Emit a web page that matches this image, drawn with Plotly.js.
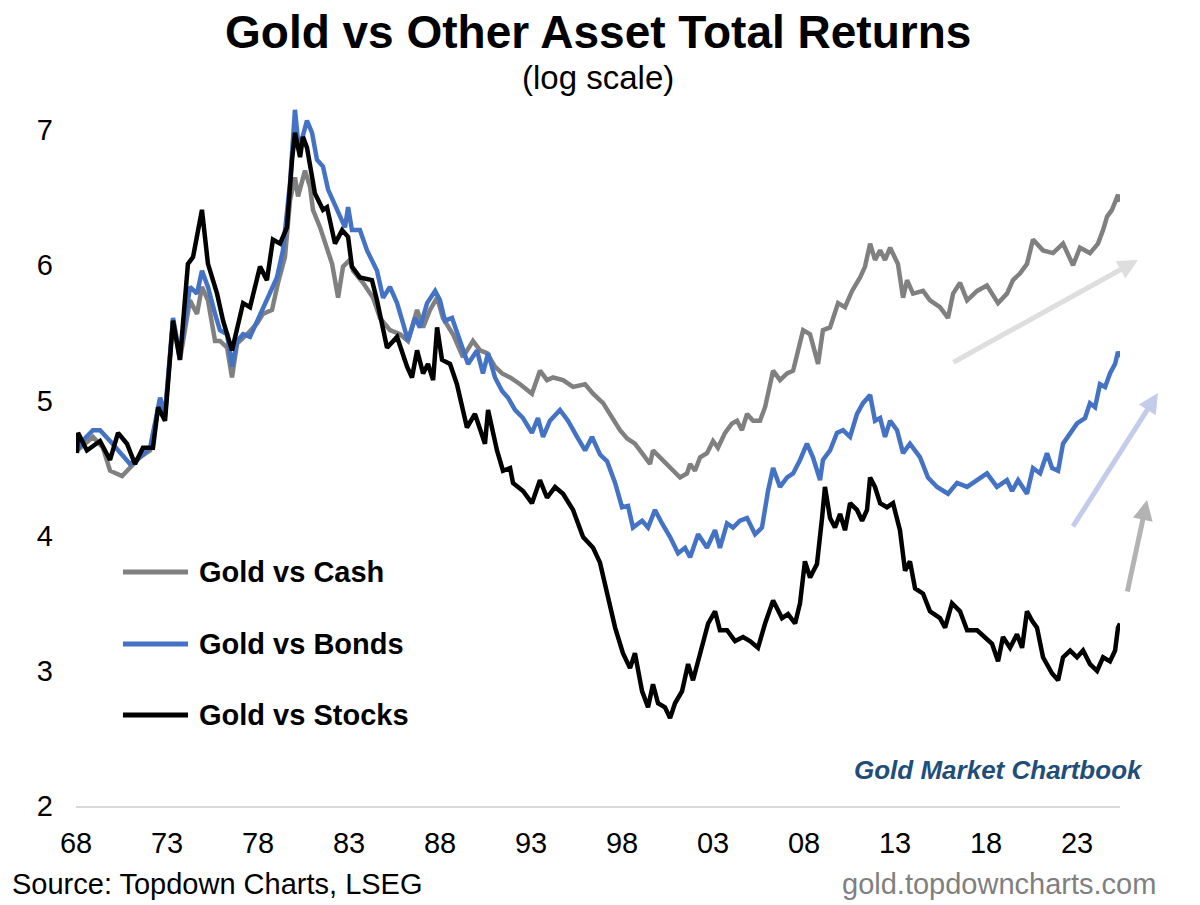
<!DOCTYPE html>
<html>
<head>
<meta charset="utf-8">
<script src="https://cdn.plot.ly/plotly-3.0.1.min.js"></script>
<style>
  html, body { margin: 0; padding: 0; background: #ffffff; }
  #chart { width: 1200px; height: 905px; }
</style>
</head>
<body>
<div id="chart"></div>
<script>
// ---- Data (x = decimal year, y = log value) ----
const seriesNames = ["Gold vs Cash", "Gold vs Bonds", "Gold vs Stocks"];

const cashYears = [1968.05,1968.93,1969.48,1969.87,1970.53,1970.97,1971.52,1972.07,1972.62,1972.89,1973.33,1973.71,1974.26,1974.65,1974.92,1975.25,1975.64,1975.91,1976.30,1976.57,1976.85,1977.40,1977.95,1978.27,1978.77,1979.10,1979.48,1979.76,1980.03,1980.20,1980.58,1980.86,1981.02,1981.41,1981.79,1982.07,1982.40,1982.67,1983.05,1983.22,1983.77,1984.32,1984.70,1985.25,1985.80,1986.24,1986.74,1987.07,1987.45,1987.84,1988.16,1988.71,1989.26,1989.81,1990.20,1990.58,1991.02,1991.41,1991.85,1992.40,1993.05,1993.49,1993.88,1994.21,1994.76,1995.31,1995.97,1996.41,1996.96,1997.45,1997.89,1998.27,1998.71,1999.10,1999.54,1999.70,2000.09,2000.47,2000.80,2001.19,2001.57,2001.74,2002.01,2002.29,2002.67,2003.00,2003.27,2003.66,2004.04,2004.32,2004.59,2004.87,2005.20,2005.58,2005.86,2006.13,2006.30,2006.68,2007.07,2007.40,2007.95,2008.33,2008.77,2009.04,2009.43,2009.87,2010.25,2010.64,2011.08,2011.35,2011.63,2011.90,2012.18,2012.45,2012.73,2013.16,2013.44,2013.66,2013.99,2014.54,2014.92,2015.47,2015.91,2016.19,2016.57,2016.96,2017.51,2018.05,2018.66,2019.15,2019.48,2019.87,2020.25,2020.58,2021.13,2021.68,2022.23,2022.78,2023.16,2023.71,2024.15,2024.43,2024.65,2024.92,2025.09,2025.25,2025.36];
const cashValues = [4.63,4.73,4.65,4.48,4.44,4.50,4.58,4.63,5.00,4.88,5.59,5.30,5.74,5.64,5.84,5.74,5.44,5.44,5.39,5.17,5.42,5.49,5.57,5.64,5.67,5.87,6.06,6.48,6.65,6.51,6.70,6.58,6.41,6.28,6.11,6.01,5.76,5.99,6.04,5.96,5.87,5.76,5.61,5.52,5.49,5.44,5.67,5.54,5.67,5.76,5.61,5.49,5.32,5.44,5.37,5.35,5.25,5.20,5.17,5.12,5.05,5.22,5.15,5.17,5.15,5.10,5.12,5.05,4.98,4.87,4.78,4.72,4.68,4.61,4.53,4.63,4.58,4.53,4.48,4.43,4.46,4.53,4.48,4.58,4.61,4.70,4.65,4.76,4.83,4.85,4.78,4.90,4.85,4.85,4.95,5.12,5.22,5.15,5.20,5.22,5.52,5.49,5.27,5.52,5.54,5.72,5.69,5.81,5.91,5.99,6.16,6.04,6.11,6.04,6.13,6.01,5.76,5.89,5.79,5.81,5.74,5.69,5.61,5.79,5.87,5.74,5.81,5.85,5.72,5.79,5.89,5.94,6.01,6.19,6.11,6.09,6.16,6.00,6.13,6.09,6.16,6.26,6.36,6.41,6.46,6.52,6.47];

const bondsYears = [1968.05,1968.49,1968.93,1969.32,1969.87,1970.42,1970.97,1971.52,1972.07,1972.62,1972.89,1973.33,1973.71,1974.26,1974.65,1974.92,1975.25,1975.64,1975.91,1976.30,1976.57,1976.85,1977.18,1977.56,1977.95,1978.27,1978.66,1979.04,1979.37,1979.76,1980.03,1980.25,1980.69,1980.97,1981.24,1981.57,1981.85,1982.12,1982.51,1982.78,1982.95,1983.16,1983.60,1983.99,1984.54,1984.87,1985.25,1985.64,1985.97,1986.24,1986.63,1986.90,1987.29,1987.73,1988.00,1988.27,1988.66,1989.10,1989.54,1990.03,1990.36,1990.64,1991.02,1991.41,1991.74,1992.12,1992.56,1993.05,1993.38,1993.66,1994.04,1994.59,1995.03,1995.53,1995.97,1996.35,1996.79,1997.18,1997.62,1998.00,1998.33,1998.60,1999.10,1999.43,1999.81,2000.20,2000.64,2001.08,2001.46,2001.74,2002.18,2002.67,2003.11,2003.38,2003.77,2004.10,2004.48,2004.87,2005.31,2005.69,2006.02,2006.30,2006.68,2007.07,2007.40,2007.78,2008.16,2008.49,2008.88,2009.04,2009.43,2009.81,2010.14,2010.53,2010.91,2011.24,2011.63,2011.90,2012.18,2012.45,2012.73,2013.11,2013.44,2013.82,2014.37,2014.81,2015.31,2015.91,2016.41,2016.96,2017.51,2018.05,2018.60,2019.15,2019.43,2019.76,2020.25,2020.58,2020.97,2021.35,2021.63,2021.96,2022.23,2022.62,2023.00,2023.44,2023.71,2023.99,2024.26,2024.54,2024.81,2025.09,2025.25,2025.36];
const bondsValues = [4.63,4.72,4.78,4.78,4.70,4.61,4.53,4.58,4.65,5.02,4.90,5.61,5.33,5.84,5.79,5.96,5.84,5.64,5.52,5.49,5.25,5.44,5.49,5.47,5.59,5.69,5.79,5.91,6.11,6.61,7.15,6.85,7.07,6.98,6.78,6.73,6.56,6.48,6.36,6.28,6.43,6.26,6.26,6.11,5.96,5.76,5.84,5.72,5.57,5.44,5.61,5.54,5.72,5.81,5.74,5.59,5.61,5.44,5.27,5.37,5.20,5.35,5.17,5.07,5.02,4.93,4.87,4.76,4.87,4.73,4.85,4.93,4.85,4.73,4.63,4.73,4.60,4.55,4.39,4.21,4.22,4.06,4.11,4.06,4.19,4.09,3.99,3.87,3.91,3.84,4.01,3.91,4.04,3.91,4.09,4.06,4.11,4.13,4.01,4.06,4.33,4.50,4.36,4.43,4.46,4.56,4.68,4.58,4.41,4.56,4.63,4.76,4.78,4.73,4.90,4.98,5.04,4.85,4.87,4.73,4.85,4.78,4.61,4.68,4.58,4.43,4.36,4.31,4.39,4.36,4.41,4.46,4.36,4.41,4.33,4.41,4.31,4.50,4.46,4.61,4.50,4.48,4.68,4.76,4.83,4.87,4.98,4.95,5.12,5.10,5.20,5.27,5.36,5.32];

const stocksYears = [1968.05,1968.11,1968.60,1969.32,1969.87,1970.31,1970.80,1971.24,1971.68,1972.23,1972.51,1972.89,1973.33,1973.71,1974.15,1974.43,1974.92,1975.25,1975.75,1976.08,1976.57,1976.85,1977.18,1977.56,1978.11,1978.49,1978.82,1979.21,1979.59,1979.87,1980.03,1980.31,1980.47,1980.69,1981.13,1981.57,1981.79,1982.23,1982.62,1982.95,1983.16,1983.60,1984.26,1984.54,1985.09,1985.64,1986.19,1986.46,1986.74,1987.07,1987.34,1987.62,1987.84,1988.11,1988.55,1988.93,1989.48,1989.92,1990.20,1990.47,1990.64,1991.13,1991.46,1991.85,1992.01,1992.56,1993.05,1993.49,1993.88,1994.32,1994.76,1995.31,1995.86,1996.41,1996.79,1997.18,1997.62,1998.05,1998.44,1998.71,1999.10,1999.43,1999.70,1999.98,2000.36,2000.64,2000.91,2001.30,2001.63,2001.90,2002.29,2002.73,2003.11,2003.38,2003.77,2004.21,2004.65,2005.03,2005.47,2005.86,2006.30,2006.79,2007.12,2007.51,2007.78,2008.05,2008.33,2008.71,2008.99,2009.15,2009.43,2009.70,2009.98,2010.25,2010.53,2010.91,2011.19,2011.46,2011.63,2011.90,2012.18,2012.56,2012.89,2013.27,2013.55,2013.82,2014.10,2014.54,2014.92,2015.47,2015.75,2016.13,2016.57,2016.96,2017.51,2017.95,2018.33,2018.66,2018.93,2019.32,2019.70,2019.98,2020.25,2020.53,2020.80,2021.13,2021.63,2021.96,2022.23,2022.62,2023.00,2023.33,2023.71,2024.10,2024.43,2024.81,2025.09,2025.25,2025.36];
const stocksValues = [4.61,4.76,4.63,4.70,4.56,4.76,4.68,4.53,4.65,4.65,4.95,4.85,5.59,5.30,6.01,6.06,6.41,6.01,5.79,5.59,5.37,5.54,5.72,5.69,5.99,5.89,6.19,6.16,6.28,6.78,6.98,6.80,6.95,6.87,6.53,6.41,6.43,6.16,6.26,6.21,5.99,5.91,5.89,5.74,5.39,5.47,5.25,5.17,5.37,5.20,5.27,5.15,5.54,5.30,5.27,5.12,4.80,4.90,4.78,4.68,4.93,4.63,4.48,4.50,4.39,4.33,4.24,4.41,4.28,4.36,4.31,4.19,3.99,3.91,3.80,3.57,3.32,3.13,3.02,3.13,2.85,2.73,2.90,2.76,2.73,2.65,2.76,2.85,3.05,2.93,3.13,3.35,3.44,3.30,3.30,3.22,3.25,3.22,3.17,3.35,3.52,3.39,3.42,3.35,3.50,3.81,3.69,3.79,4.13,4.36,4.13,4.06,4.16,4.04,4.24,4.19,4.11,4.19,4.43,4.36,4.24,4.21,4.24,4.04,3.74,3.81,3.61,3.57,3.44,3.39,3.32,3.50,3.44,3.30,3.30,3.25,3.20,3.07,3.25,3.17,3.27,3.17,3.44,3.37,3.32,3.10,2.98,2.93,3.10,3.15,3.10,3.15,3.05,3.00,3.10,3.07,3.15,3.32,3.35];

const xTickYears = [1968,1973,1978,1983,1988,1993,1998,2003,2008,2013,2018,2023];
const xTickLabels = ["68","73","78","83","88","93","98","03","08","13","18","23"];
const yTickValues = [2,3,4,5,6,7];

// ---- Styles ----
const colors = ["#808080", "#4472C4", "#000000"];
const FONT = "Liberation Sans, Arial, Helvetica, sans-serif";

const traces = [
  {x: cashYears, y: cashValues, name: seriesNames[0]},
  {x: bondsYears, y: bondsValues, name: seriesNames[1]},
  {x: stocksYears, y: stocksValues, name: seriesNames[2]}
].map((t, i) => Object.assign(t, {
  type: "scatter", mode: "lines",
  line: {color: colors[i], width: 4.5, shape: "linear"},
  hoverinfo: "skip", showlegend: false
}));

// legend drawn manually (long sample lines as in the reference)
const legendY = [0.3205, 0.2219, 0.1247];
const shapes = seriesNames.map((n, i) => ({
  type: "line", xref: "paper", yref: "paper",
  x0: 0.045, x1: 0.1073, y0: legendY[i], y1: legendY[i],
  line: {color: colors[i], width: 5}
}));

const annotations = [
  {text: "Gold vs Other Asset Total Returns", xref: "paper", yref: "paper", x: 0.5, y: 1.0603,
   xanchor: "center", yanchor: "middle", showarrow: false,
   font: {family: FONT, size: 46, color: "#000000", weight: "bold"}},
  {text: "(log scale)", xref: "paper", yref: "paper", x: 0.5, y: 0.9973,
   xanchor: "center", yanchor: "middle", showarrow: false,
   font: {family: FONT, size: 33, color: "#000000"}},
  {text: "Gold Market Chartbook", xref: "paper", yref: "paper", x: 1.024, y: 0.0493,
   xanchor: "right", yanchor: "middle", showarrow: false,
   font: {family: FONT, size: 26, color: "#1F4E79", weight: "bold", style: "italic"}},
  {text: "Source: Topdown Charts, LSEG", xref: "paper", yref: "paper", x: -0.0632, y: -0.1068,
   xanchor: "left", yanchor: "middle", showarrow: false,
   font: {family: FONT, size: 29, color: "#000000"}},
  {text: "gold.topdowncharts.com", xref: "paper", yref: "paper", x: 1.0364, y: -0.1068,
   xanchor: "right", yanchor: "middle", showarrow: false,
   font: {family: FONT, size: 29, color: "#7F7F7F"}},
  // decorative arrows
  {text: "", xref: "paper", yref: "paper", x: 1.0172, y: 0.7479, ax: -186, ay: 103,
   showarrow: true, arrowhead: 2, arrowsize: 0.8, arrowwidth: 5, arrowcolor: "#DEDEDE", standoff: 0},
  {text: "", xref: "paper", yref: "paper", x: 1.0364, y: 0.5658, ax: -86, ay: 135,
   showarrow: true, arrowhead: 2, arrowsize: 0.8, arrowwidth: 5, arrowcolor: "#C3CCEB", standoff: 0},
  {text: "", xref: "paper", yref: "paper", x: 1.0259, y: 0.4192, ax: -20, ay: 93,
   showarrow: true, arrowhead: 2, arrowsize: 0.8, arrowwidth: 5, arrowcolor: "#B3B3B3", standoff: 0}
].concat(seriesNames.map((n, i) => ({
  text: n, xref: "paper", yref: "paper", x: 0.1159, y: legendY[i],
  xanchor: "left", yanchor: "middle", showarrow: false,
  font: {family: FONT, size: 29, color: "#000000", weight: "bold"}
})));

const layout = {
  width: 1200, height: 905,
  margin: {l: 76, r: 80, t: 76, b: 99, pad: 0},
  paper_bgcolor: "#ffffff", plot_bgcolor: "#ffffff",
  font: {family: FONT, color: "#000000"},
  showlegend: false,
  xaxis: {
    range: [1968, 2025.36], tickmode: "array", tickvals: xTickYears, ticktext: xTickLabels,
    showgrid: false, zeroline: false, showline: true, linecolor: "#D9D9D9", linewidth: 2,
    ticks: "", ticklabelstandoff: 10, tickfont: {family: FONT, size: 29, color: "#000000"},
    fixedrange: true
  },
  yaxis: {
    range: [2, 7.4], tickmode: "array", tickvals: yTickValues,
    showgrid: false, zeroline: false, showline: false,
    ticks: "", ticklabelstandoff: 22, tickfont: {family: FONT, size: 29, color: "#000000"},
    fixedrange: true
  },
  shapes: shapes,
  annotations: annotations
};

Plotly.newPlot("chart", traces, layout, {staticPlot: true, displayModeBar: false});
</script>
</body>
</html>
